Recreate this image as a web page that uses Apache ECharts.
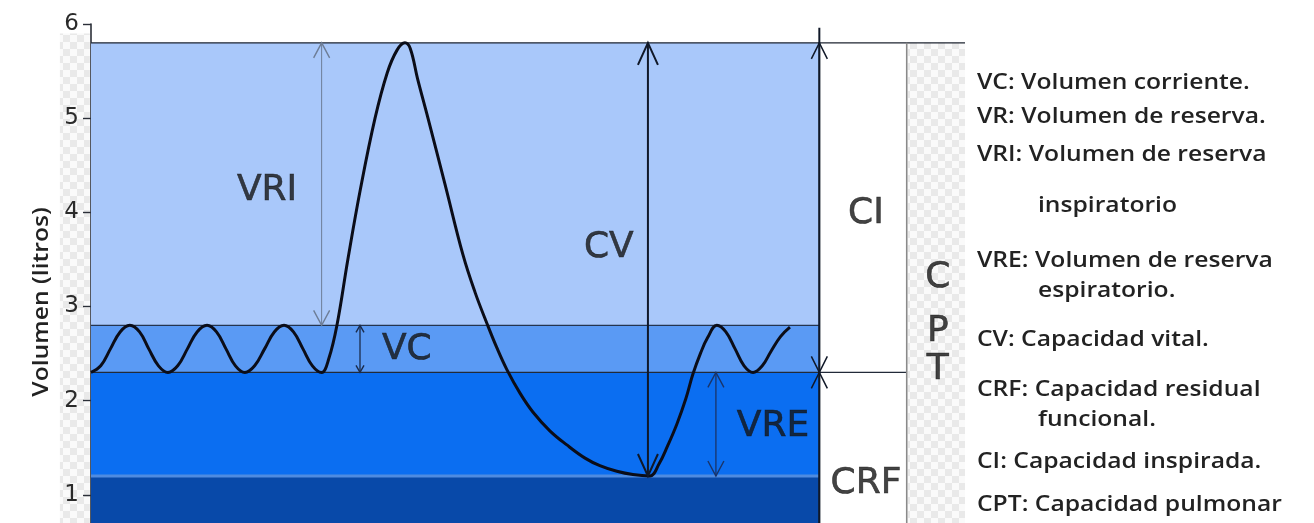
<!DOCTYPE html>
<html>
<head>
<meta charset="utf-8">
<title>Volúmenes y capacidades pulmonares</title>
<script src="https://cdn.jsdelivr.net/npm/echarts@6/dist/echarts.min.js"></script>
<style>
  html, body { margin: 0; padding: 0; background: #ffffff; }
  #chart { width: 1314px; height: 523px; }
</style>
</head>
<body>
<div id="chart"></div>
<script>
// Spirometry trace: time (s) and lung volume (litres)
const TIME = [
  0, 0.4, 0.8, 1.2, 1.6, 2.0, 2.38, 2.78, 3.17,
  3.57, 3.97, 4.37, 4.78, 5.17, 5.56, 5.95, 6.34,
  6.74, 7.15, 7.55, 7.95, 8.34, 8.73, 9.12, 9.5,
  9.8, 10.13, 10.58, 11.1, 11.7, 12.2, 12.6, 12.93, 13.15,
  13.45, 13.88, 14.58, 15.32, 15.82, 16.31, 16.72, 17.13, 17.67, 18.2, 18.9,
  19.6, 20.35, 20.96, 21.66, 22.32, 23.02,
  23.4, 23.75, 24.13, 24.5, 24.79, 25.1, 25.4, 25.78,
  26.15, 26.53, 26.9, 27.27, 27.65, 28.0, 28.4, 28.79
];
const VOLUME = [
  2.3, 2.37, 2.55, 2.73, 2.8, 2.73, 2.55, 2.37, 2.3,
  2.37, 2.55, 2.73, 2.8, 2.73, 2.55, 2.37, 2.3,
  2.37, 2.55, 2.73, 2.8, 2.73, 2.55, 2.37, 2.3,
  2.45, 2.8, 3.5, 4.25, 5.0, 5.48, 5.72, 5.8, 5.74,
  5.42, 5.0, 4.3, 3.55, 3.15, 2.82, 2.56, 2.33, 2.08, 1.88, 1.68,
  1.53, 1.39, 1.31, 1.25, 1.215, 1.2,
  1.33, 1.52, 1.75, 2.02, 2.28, 2.5, 2.67, 2.8,
  2.73, 2.55, 2.37, 2.3, 2.37, 2.52, 2.68, 2.78
];

// Volume levels (litres)
const MAX_INSPIRATION = 5.8;
const TIDAL_TOP = 2.8;
const RESTING_END = 2.3;
const MAX_EXPIRATION = 1.2;

// Time limits (s) of the trace area and the capacity columns
const TRACE_END = 30;
const CAPACITY_END = 33.6;
const AXIS_END = 36;

const Y_TICKS = [0, 1, 2, 3, 4, 5, 6];

// Measurement arrows: [time, lower volume, upper volume]
const ARROWS = [
  [9.5, TIDAL_TOP, MAX_INSPIRATION],         // VRI
  [11.08, RESTING_END, TIDAL_TOP],           // VC
  [22.94, MAX_EXPIRATION, MAX_INSPIRATION],  // CV
  [25.74, MAX_EXPIRATION, RESTING_END],      // VRE
  [TRACE_END, RESTING_END, MAX_INSPIRATION], // CI
  [TRACE_END, 0, RESTING_END]                // CRF
];
const ARROW_LOOK = [
  { color: '#6d7d96', width: 1, half: 8, len: 15, up: true, down: true },
  { color: '#1b2b4a', width: 1.3, half: 4, len: 7, up: true, down: true },
  { color: '#101828', width: 2, half: 10, len: 22, up: true, down: true },
  { color: '#1a3468', width: 1.3, half: 8, len: 15, up: true, down: true },
  { color: '#101828', width: 1.5, half: 8, len: 16, up: true, down: true },
  { color: '#101828', width: 1.5, half: 8, len: 16, up: true, down: false }
];

// Annotation labels: [time, volume, text]
const ZONE_LABELS = [
  [7.25, 4.23, 'VRI'],
  [13.01, 2.54, 'VC'],
  [21.33, 3.62, 'CV'],
  [28.09, 1.72, 'VRE'],
  [31.92, 3.99, 'CI'],
  [31.92, 1.12, 'CRF'],
  [34.88, 3.31, 'C'],
  [34.88, 2.73, 'P'],
  [34.88, 2.33, 'T']
];

const LEGEND_LINES = [
  'VC: Volumen corriente.',
  'VR: Volumen de reserva.',
  'VRI: Volumen de reserva',
  'inspiratorio',
  'VRE: Volumen de reserva',
  'espiratorio.',
  'CV: Capacidad vital.',
  'CRF: Capacidad residual',
  'funcional.',
  'CI: Capacidad inspirada.',
  'CPT: Capacidad pulmonar'
];

// Shaded bands: [t0, t1, v0, v1]
const BANDS = [
  [0, TRACE_END, TIDAL_TOP, MAX_INSPIRATION],
  [0, TRACE_END, RESTING_END, TIDAL_TOP],
  [0, TRACE_END, MAX_EXPIRATION, RESTING_END],
  [0, TRACE_END, 0, MAX_EXPIRATION]
];
const BAND_COLORS = ['#a9c8fa', '#5a9af4', '#0b6ef1', '#0849a9'];

// Reference rules: [t0, v0, t1, v1]
const RULES = [
  [0, MAX_EXPIRATION, TRACE_END, MAX_EXPIRATION],
  [0, MAX_INSPIRATION, AXIS_END, MAX_INSPIRATION],
  [0, TIDAL_TOP, TRACE_END, TIDAL_TOP],
  [0, RESTING_END, CAPACITY_END, RESTING_END],
  [CAPACITY_END, 0, CAPACITY_END, MAX_INSPIRATION],
  [TRACE_END, 0, TRACE_END, 5.96]
];
const RULE_LOOK = [
  { color: '#4f8be0', width: 3 },
  { color: '#1e2430', width: 1.3 },
  { color: '#24344f', width: 1.2 },
  { color: '#222a38', width: 1.3 },
  { color: '#8a8a8a', width: 1.6 },
  { color: '#101828', width: 2 }
];

// Transparent-grid style columns: [t0, t1, v0, v1]
const CHECKER_AREAS = [
  [-1.28, -0.05, 0, 5.9],
  [CAPACITY_END + 0.04, AXIS_END, 0, MAX_INSPIRATION]
];

function checkerPattern() {
  const c = document.createElement('canvas');
  const s = 7;
  c.width = c.height = s * 2;
  const g = c.getContext('2d');
  g.fillStyle = '#fafafa';
  g.fillRect(0, 0, s * 2, s * 2);
  g.fillStyle = '#e9e9e9';
  g.fillRect(0, 0, s, s);
  g.fillRect(s, s, s, s);
  return c;
}
const CHECKER = checkerPattern();

function rectItem(fill) {
  return function (params, api) {
    const p0 = api.coord([api.value(0), api.value(3)]);
    const p1 = api.coord([api.value(1), api.value(2)]);
    return {
      type: 'rect',
      shape: { x: p0[0], y: p0[1], width: p1[0] - p0[0], height: p1[1] - p0[1] },
      style: { fill: fill(params.dataIndex) }
    };
  };
}

function ruleItem(params, api) {
  const a = api.coord([api.value(0), api.value(1)]);
  const b = api.coord([api.value(2), api.value(3)]);
  const look = RULE_LOOK[params.dataIndex];
  return {
    type: 'line',
    shape: { x1: a[0], y1: a[1], x2: b[0], y2: b[1] },
    style: { stroke: look.color, lineWidth: look.width }
  };
}

function arrowItem(params, api) {
  const t = api.value(0);
  const lo = api.coord([t, api.value(1)]);
  const hi = api.coord([t, api.value(2)]);
  const look = ARROW_LOOK[params.dataIndex];
  const stroke = { stroke: look.color, lineWidth: look.width, fill: null };
  const head = { stroke: look.color, lineWidth: Math.max(1.4, look.width), fill: null };
  const children = [{
    type: 'line',
    shape: { x1: hi[0], y1: hi[1], x2: lo[0], y2: lo[1] },
    style: stroke
  }];
  if (look.up) {
    children.push({
      type: 'polyline',
      shape: { points: [[hi[0] - look.half, hi[1] + look.len], [hi[0], hi[1]], [hi[0] + look.half, hi[1] + look.len]] },
      style: head
    });
  }
  if (look.down) {
    children.push({
      type: 'polyline',
      shape: { points: [[lo[0] - look.half, lo[1] - look.len], [lo[0], lo[1]], [lo[0] + look.half, lo[1] - look.len]] },
      style: head
    });
  }
  return { type: 'group', children: children };
}

const chart = echarts.init(document.getElementById('chart'), null, { renderer: 'canvas' });

// Glossary on the right
const LEGEND_X = 977;
const LEGEND_INDENT_X = 1038;
const LEGEND_Y = [83, 117, 155, 206, 261, 291, 340, 390, 420, 462, 505];
const INDENTED = [false, false, false, true, false, true, false, false, true, false, false];
const TEXT_STRETCH = 1.12;

const legendGraphics = LEGEND_LINES.map(function (text, i) {
  return {
    type: 'text',
    x: INDENTED[i] ? LEGEND_INDENT_X : LEGEND_X,
    y: LEGEND_Y[i],
    scaleX: TEXT_STRETCH,
    silent: true,
    style: {
      text: text,
      font: '600 22px "Open Sans", sans-serif',
      fill: '#222222',
      textAlign: 'left',
      textVerticalAlign: 'middle'
    }
  };
});

// Vertical axis title
legendGraphics.push({
  type: 'text',
  x: 42,
  y: 302,
  rotation: Math.PI / 2,
  scaleX: TEXT_STRETCH,
  silent: true,
  style: {
    text: 'Volumen (litros)',
    font: '600 22px "Open Sans", sans-serif',
    fill: '#222222',
    textAlign: 'center',
    textVerticalAlign: 'middle'
  }
});

const option = {
  animation: false,
  backgroundColor: '#ffffff',
  grid: { left: 91, top: 24, width: 874, height: 565, containLabel: false, outerBoundsMode: 'none' },
  xAxis: {
    type: 'value', min: 0, max: AXIS_END, show: false
  },
  yAxis: {
    type: 'value', min: Y_TICKS[0], max: Y_TICKS[Y_TICKS.length - 1], interval: 1,
    axisLine: { show: true, lineStyle: { color: '#2b2f38', width: 1.6 } },
    axisTick: { show: true, length: 8, lineStyle: { color: '#2b2f38', width: 1.4 } },
    axisLabel: { margin: 12, fontFamily: 'DejaVu Sans', fontSize: 23, color: '#2a2a2a' },
    splitLine: { show: false }
  },
  graphic: legendGraphics,
  series: [
    {
      type: 'custom', name: 'checker', coordinateSystem: 'cartesian2d', clip: false, z: 0,
      renderItem: rectItem(function () { return { image: CHECKER, repeat: 'repeat' }; }),
      data: CHECKER_AREAS, silent: true
    },
    {
      type: 'custom', name: 'bands', coordinateSystem: 'cartesian2d', z: 1,
      renderItem: rectItem(function (i) { return BAND_COLORS[i]; }),
      data: BANDS, silent: true
    },
    {
      type: 'custom', name: 'rules', coordinateSystem: 'cartesian2d', clip: false, z: 2,
      renderItem: ruleItem, data: RULES, silent: true
    },
    {
      type: 'line', name: 'Volumen', z: 4,
      data: TIME.map(function (t, i) { return [t, VOLUME[i]]; }),
      smooth: 0.4, showSymbol: false, symbol: 'none',
      lineStyle: { color: '#0b0d18', width: 3 }
    },
    {
      type: 'custom', name: 'arrows', coordinateSystem: 'cartesian2d', z: 5,
      renderItem: arrowItem, data: ARROWS, silent: true
    },
    {
      type: 'scatter', name: 'labels', z: 6, symbolSize: 0, silent: true,
      data: ZONE_LABELS,
      label: {
        show: true, position: 'inside',
        formatter: function (p) { return p.data[2]; },
        fontFamily: 'DejaVu Sans', fontSize: 36, color: '#141414',
        textBorderColor: '#141414', textBorderWidth: 0.6
      }
    }
  ]
};

chart.setOption(option);
</script>
</body>
</html>
